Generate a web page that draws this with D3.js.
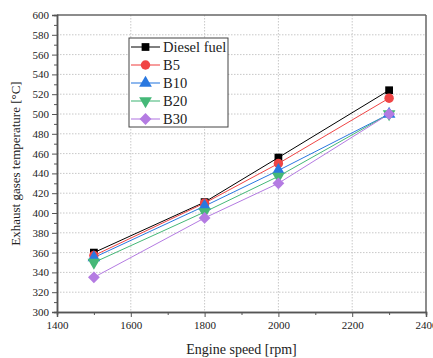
<!DOCTYPE html>
<html lang="en">
<head>
<meta charset="UTF-8">
<title>Exhaust gases temperature</title>
<script src="https://cdn.jsdelivr.net/npm/d3@7"></script>
<style>
  body { margin: 0; background: #fff; }
  text { font-family: "Liberation Serif", "Times New Roman", serif; fill: #222; }
</style>
</head>
<body>
<div id="chart"></div>
<script>
var speeds = [1500, 1800, 2000, 2300];
var seriesNames = ["Diesel fuel", "B5", "B10", "B20", "B30"];
var diesel = [360, 411, 456, 524];
var b5 = [357, 410, 450, 516];
var b10 = [355, 407, 443, 500];
var b20 = [350, 401, 437, 500];
var b30 = [335, 395, 430, 500];
var xTicks = [1400, 1600, 1800, 2000, 2200, 2400];
var yTicks = d3.range(300, 601, 20);

var colors = ["#000000", "#f04545", "#2a78e0", "#45b878", "#b47be2"];
var symbols = [d3.symbolSquare, d3.symbolCircle, d3.symbolTriangle, d3.symbolTriangle, d3.symbolSquare];
var rotations = [0, 0, 0, 180, 45];
var allValues = [diesel, b5, b10, b20, b30];

var width = 433, height = 358;
var margin = {top: 15, right: 7, bottom: 46, left: 57};

var svg = d3.select("#chart").append("svg")
    .attr("width", width)
    .attr("height", height);

var x = d3.scaleLinear().domain([1400, 2400]).range([margin.left, width - margin.right]);
var y = d3.scaleLinear().domain([300, 600]).range([height - margin.bottom, margin.top]);

// grid
svg.append("g").selectAll("line").data(xTicks.slice(1, -1)).enter().append("line")
    .attr("x1", function (d) { return x(d); }).attr("x2", function (d) { return x(d); })
    .attr("y1", y(600)).attr("y2", y(300))
    .attr("stroke", "#c8c8c8").attr("stroke-dasharray", "1.5,1.5");
svg.append("g").selectAll("line").data(yTicks.slice(1, -1)).enter().append("line")
    .attr("x1", x(1400)).attr("x2", x(2400))
    .attr("y1", function (d) { return y(d); }).attr("y2", function (d) { return y(d); })
    .attr("stroke", "#c8c8c8").attr("stroke-dasharray", "1.5,1.5");

// frame top & right
svg.append("line").attr("x1", x(1400)).attr("x2", x(2400)).attr("y1", y(600)).attr("y2", y(600))
    .attr("stroke", "#666").attr("stroke-width", 1.5);
svg.append("line").attr("x1", x(2400)).attr("x2", x(2400)).attr("y1", y(600)).attr("y2", y(300))
    .attr("stroke", "#666").attr("stroke-width", 1.5);

// axes
svg.append("g").attr("transform", "translate(0," + y(300) + ")")
    .call(d3.axisBottom(x).tickValues(xTicks).tickFormat(d3.format("d")).tickSizeOuter(0).tickSize(5).tickPadding(4));
svg.append("g").attr("transform", "translate(0," + y(300) + ")")
    .call(d3.axisBottom(x).tickValues(d3.range(1500, 2400, 200)).tickFormat("").tickSizeOuter(0).tickSize(3));
svg.append("g").attr("transform", "translate(" + x(1400) + ",0)")
    .call(d3.axisLeft(y).tickValues(yTicks).tickSizeOuter(0).tickSize(5).tickPadding(3));
svg.append("g").attr("transform", "translate(" + x(1400) + ",0)")
    .call(d3.axisLeft(y).tickValues(d3.range(310, 600, 20)).tickFormat("").tickSizeOuter(0).tickSize(3));
svg.selectAll(".domain").attr("stroke", "#555").attr("stroke-width", 1.5);
svg.selectAll(".tick line").attr("stroke", "#555");
svg.selectAll(".tick text").style("font-family", "Liberation Serif").style("font-size", "11px").attr("fill", "#222");

// lines & markers
var line = d3.line()
    .x(function (d, i) { return x(speeds[i]); })
    .y(function (d) { return y(d); });

allValues.forEach(function (vals, s) {
    svg.append("path").datum(vals)
        .attr("d", line)
        .attr("fill", "none")
        .attr("stroke", colors[s])
        .attr("stroke-width", 1);
});
allValues.forEach(function (vals, s) {
    svg.append("g").selectAll("path").data(vals).enter().append("path")
        .attr("d", d3.symbol().type(symbols[s]).size(s === 0 ? 60 : 70))
        .attr("transform", function (d, i) {
            return "translate(" + x(speeds[i]) + "," + y(d) + ") rotate(" + rotations[s] + ")";
        })
        .attr("fill", colors[s]);
});

// legend
var legend = svg.append("g").attr("transform", "translate(129,38)");
legend.append("rect").attr("width", 99).attr("height", 89)
    .attr("fill", "#fff").attr("stroke", "#444").attr("stroke-width", 1);
var items = legend.selectAll("g.item").data(seriesNames).enter().append("g")
    .attr("transform", function (d, i) { return "translate(0," + (9 + i * 18) + ")"; });
items.append("line").attr("x1", 2).attr("x2", 31).attr("y1", 0).attr("y2", 0)
    .attr("stroke", function (d, i) { return colors[i]; })
    .attr("stroke-width", function (d, i) { return i === 0 ? 1 : 1.5; })
    .attr("stroke-opacity", function (d, i) { return i === 0 ? 1 : 0.7; });
items.append("path")
    .attr("d", function (d, i) { return d3.symbol().type(symbols[i]).size(i === 0 ? 60 : 70)(); })
    .attr("transform", function (d, i) { return "translate(16.5,0) rotate(" + rotations[i] + ")"; })
    .attr("fill", function (d, i) { return colors[i]; });
items.append("text").attr("x", 34).attr("y", 0).attr("dy", "0.35em")
    .style("font-size", "14.5px")
    .attr("fill", "#111")
    .text(function (d) { return d; });

// axis titles
svg.append("text")
    .attr("x", (x(1400) + x(2400)) / 2).attr("y", 354)
    .attr("text-anchor", "middle")
    .style("font-size", "14px")
    .text("Engine speed [rpm]");
svg.append("text")
    .attr("transform", "translate(20," + (y(450)) + ") rotate(-90)")
    .attr("text-anchor", "middle")
    .style("font-size", "13px")
    .text("Exhaust gases temperature [°C]");
</script>
</body>
</html>
